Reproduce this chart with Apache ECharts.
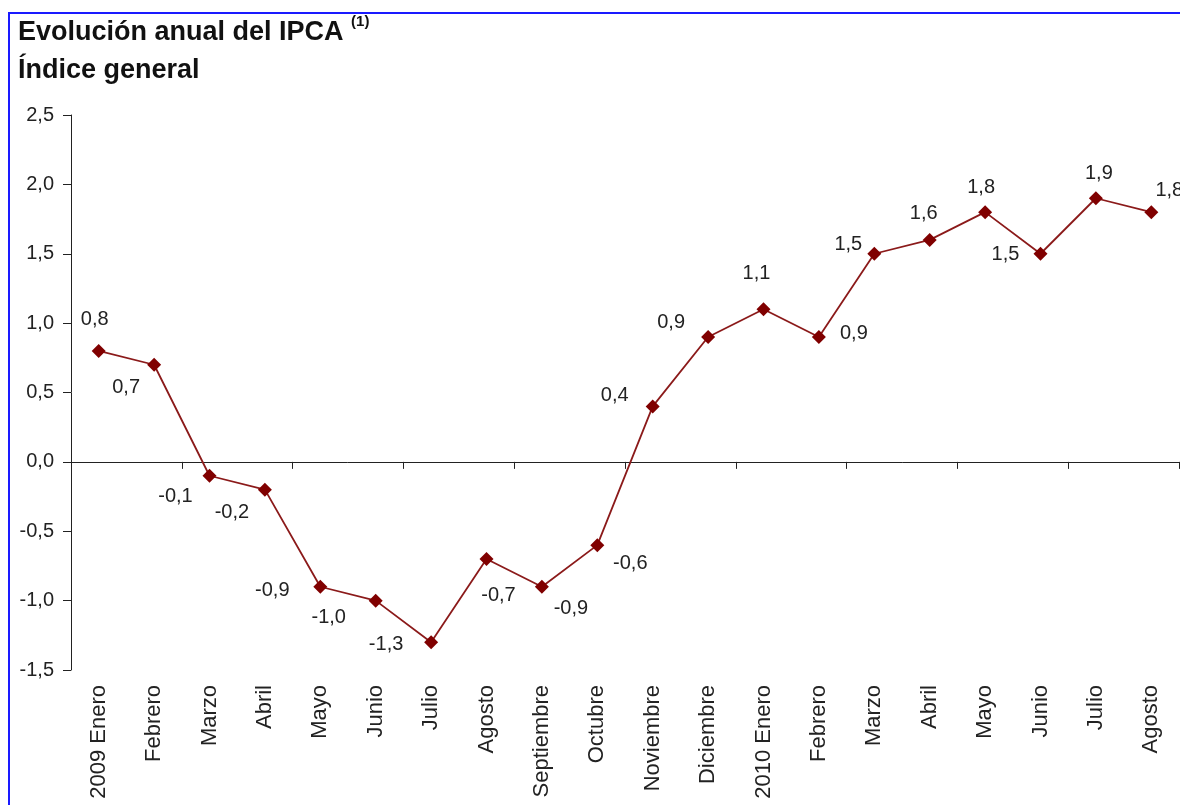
<!DOCTYPE html>
<html>
<head>
<meta charset="utf-8">
<title>Evolución anual del IPCA</title>
<script src="https://cdn.jsdelivr.net/npm/echarts@6/dist/echarts.min.js"></script>
<style>
  html, body { margin: 0; padding: 0; background: #fff; }
  #chart { width: 1180px; height: 805px; }
</style>
</head>
<body>
<div id="chart"></div>
<script>
// categorias (meses)
var meses = ['2009 Enero', 'Febrero', 'Marzo', 'Abril', 'Mayo', 'Junio', 'Julio', 'Agosto',
  'Septiembre', 'Octubre', 'Noviembre', 'Diciembre', '2010 Enero', 'Febrero', 'Marzo',
  'Abril', 'Mayo', 'Junio', 'Julio', 'Agosto'];
// tasa anual IPCA, indice general
var ipca = [0.8, 0.7, -0.1, -0.2, -0.9, -1.0, -1.3, -0.7, -0.9, -0.6, 0.4, 0.9, 1.1, 0.9,
  1.5, 1.6, 1.8, 1.5, 1.9, 1.8];
// marcas del eje y
var yTicks = [-1.5, -1.0, -0.5, 0.0, 0.5, 1.0, 1.5, 2.0, 2.5];
// desplazamiento de cada etiqueta respecto al punto (px)
var labelOffsets = [[-4, -31], [-28, 23], [-34, 21], [-33, 23], [-48, 4], [-47, 17], [-45, 2],
  [12, 36], [29, 22], [33, 18], [-38, -11], [-37, -15], [-7, -36], [35, -4], [-26, -9],
  [-6, -26], [-4, -25], [-35, 1], [3, -25], [18, -22]];

var fuente = "'Liberation Sans', Arial, sans-serif";

function coma(v) {
  return v.toFixed(1).replace('.', ',');
}

var puntos = [];
for (var i = 0; i < ipca.length; i++) {
  puntos.push({
    value: ipca[i],
    label: { offset: labelOffsets[i] }
  });
}

var myChart = echarts.init(document.getElementById('chart'));

var option = {
  animation: false,
  backgroundColor: '#fff',
  textStyle: { fontFamily: fuente },
  title: {
    left: 13,
    top: 9,
    text: '{t|Evolución anual del IPCA }{sup|(1)}\n{t|Índice general}',
    textStyle: {
      rich: {
        t: { fontFamily: fuente, fontSize: 27, fontWeight: 'bold', color: '#111', lineHeight: 38 },
        sup: { fontFamily: fuente, fontSize: 15, fontWeight: 'bold', color: '#111', verticalAlign: 'top', lineHeight: 38, padding: [0, 0, 16, 0] }
      }
    }
  },
  graphic: [{
    type: 'rect',
    shape: { x: 9, y: 13, width: 1200, height: 820 },
    style: { fill: 'none', stroke: '#1a1aff', lineWidth: 2 },
    z: 100
  }],
  grid: {
    left: 71,
    right: 1,
    top: 115,
    bottom: 135
  },
  xAxis: [{
    type: 'category',
    data: meses,
    boundaryGap: true,
    axisLine: { onZero: true, lineStyle: { color: '#222', width: 1 } },
    axisTick: { show: true, inside: false, length: 7, lineStyle: { color: '#222' } },
    axisLabel: { show: false }
  }, {
    type: 'category',
    data: meses,
    position: 'bottom',
    boundaryGap: true,
    axisLine: { show: false, onZero: false },
    axisTick: { show: false },
    axisLabel: {
      rotate: 90,
      margin: 15,
      interval: 0,
      fontSize: 22,
      color: '#222',
      fontFamily: fuente
    }
  }],
  yAxis: {
    type: 'value',
    min: yTicks[0],
    max: yTicks[yTicks.length - 1],
    interval: 0.5,
    splitLine: { show: false },
    axisLine: { show: true, lineStyle: { color: '#222', width: 1 } },
    axisTick: { show: true, inside: false, length: 8, lineStyle: { color: '#222' } },
    axisLabel: {
      margin: 17,
      fontSize: 20,
      color: '#222',
      fontFamily: fuente,
      formatter: function (v) { return coma(v); }
    }
  },
  series: [{
    name: 'IPCA',
    type: 'line',
    xAxisIndex: 0,
    data: puntos,
    symbol: 'diamond',
    symbolSize: 14,
    lineStyle: { color: '#8b1a1a', width: 1.8 },
    itemStyle: { color: '#800000' },
    label: {
      show: true,
      position: 'inside',
      align: 'center',
      verticalAlign: 'middle',
      fontSize: 20,
      color: '#222',
      fontFamily: fuente,
      formatter: function (p) { return coma(p.value); }
    }
  }]
};

myChart.setOption(option);
</script>
</body>
</html>
